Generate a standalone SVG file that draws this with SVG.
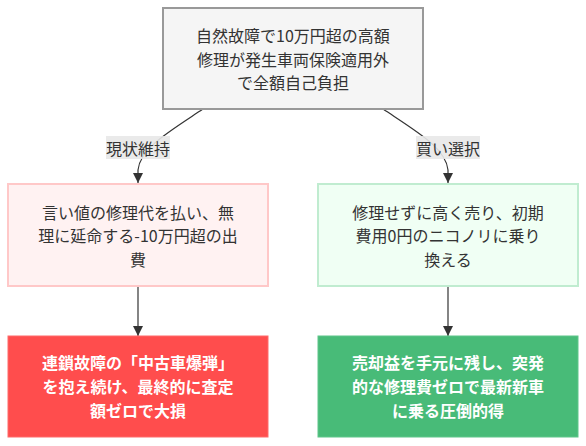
<svg xmlns="http://www.w3.org/2000/svg" width="586" height="446" viewBox="0 0 586 446">
<defs>
<marker id="arr" markerUnits="userSpaceOnUse" markerWidth="10" markerHeight="10" viewBox="0 0 10 10" refX="10" refY="5" orient="auto">
<path d="M0,0 L10,5 L0,10 z" fill="#333"/>
</marker>
</defs>
<style>
text{font-family:"Noto Sans CJK JP","Noto Sans",sans-serif;font-size:16px;fill:#333;text-anchor:middle;dominant-baseline:central}
.w{fill:#fff;font-weight:bold}
.edge{fill:none;stroke:#333;stroke-width:1.2;marker-end:url(#arr)}
.lbl{fill:#e8e8e8;opacity:0.9}
</style>
<rect width="586" height="446" fill="#fff"/>
<g id="edges">
<path class="edge" d="M203,109 C170,131 140,148 138,170 L138,183"/>
<path class="edge" d="M383,109 C416,131 446,148 448,170 L448,183"/>
<path class="edge" d="M138,286 L138,336"/>
<path class="edge" d="M448,286 L448,336"/>
<g id="label-keep">
<rect class="lbl" x="106" y="136" width="64" height="23"/>
<text x="138" y="147.5">現状維持</text>
</g>
<g id="label-buy">
<rect class="lbl" x="416" y="136" width="64" height="23"/>
<text x="448" y="147.5">買い選択</text>
</g>
</g>
<g id="start">
<rect x="163" y="8" width="260" height="101" fill="#f5f5f5" stroke="#999" stroke-width="2"/>
<text x="293" y="35">自然故障で10万円超の高額</text>
<text x="293" y="58.5">修理が発生車両保険適用外</text>
<text x="293" y="82">で全額自己負担</text>
</g>
<g id="keep">
<rect x="8" y="184" width="260" height="102" fill="#fff2f2" stroke="#ffc8c8" stroke-width="2"/>
<text x="138" y="211.5">言い値の修理代を払い、無</text>
<text x="138" y="235">理に延命する-10万円超の出</text>
<text x="138" y="258.5">費</text>
</g>
<g id="buy">
<rect x="318" y="184" width="260" height="102" fill="#f0fff4" stroke="#c0ecd0" stroke-width="2"/>
<text x="448" y="211.5">修理せずに高く売り、初期</text>
<text x="448" y="235">費用0円のニコノリに乗り</text>
<text x="448" y="258.5">換える</text>
</g>
<g id="bad">
<rect x="8" y="336" width="260" height="101" fill="#ff4d4d" stroke="#ff6b6b" stroke-width="1"/>
<text class="w" x="138" y="362">連鎖故障の「中古車爆弾」</text>
<text class="w" x="138" y="386">を抱え続け、最終的に査定</text>
<text class="w" x="138" y="410">額ゼロで大損</text>
</g>
<g id="good">
<rect x="318" y="336" width="260" height="101" fill="#48bb78" stroke="#5fc68a" stroke-width="1"/>
<text class="w" x="448" y="362">売却益を手元に残し、突発</text>
<text class="w" x="448" y="386">的な修理費ゼロで最新新車</text>
<text class="w" x="448" y="410">に乗る圧倒的得</text>
</g>
</svg>
